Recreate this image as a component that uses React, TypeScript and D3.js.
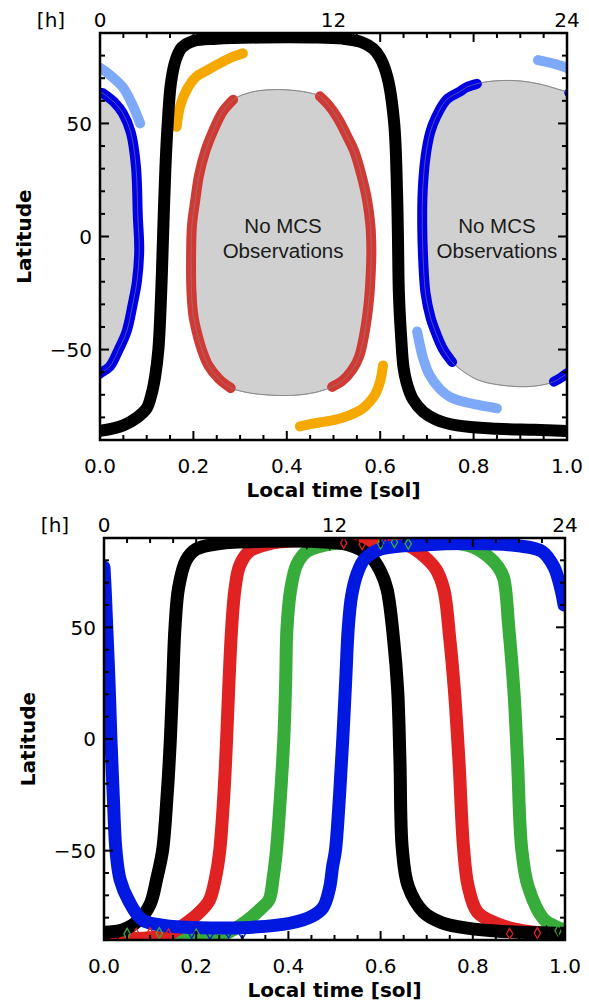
import React, { useRef, useEffect } from "react";
import * as d3 from "d3";

type Pt = [number, number];

const xTicks = [0, 0.2, 0.4, 0.6, 0.8, 1.0];
const xTickLabels = ["0.0", "0.2", "0.4", "0.6", "0.8", "1.0"];
const xMinorTicks = [0.05, 0.1, 0.15, 0.25, 0.3, 0.35, 0.45, 0.5, 0.55, 0.65, 0.7, 0.75, 0.85, 0.9, 0.95];
const hourTicks = [0, 0.5, 1.0];
const hourLabels = ["0", "12", "24"];
const latTicks = [-50, 0, 50];
const latTickLabels = ["\u221250", "0", "50"];
const latMinorTicks = [-80, -70, -60, -40, -30, -20, -10, 10, 20, 30, 40, 60, 70, 80];

// ---- upper panel ----
const upperBlack: Pt[] = [
  [0.0, -86], [0.05, -83.5], [0.08, -80], [0.1, -76], [0.11, -70], [0.118, -62], [0.125, -50],
  [0.131, -25], [0.135, 0], [0.14, 30], [0.145, 50], [0.152, 68], [0.162, 78], [0.175, 83.5],
  [0.2, 86.5], [0.25, 87.5], [0.35, 88], [0.45, 88], [0.52, 87.5], [0.56, 86], [0.585, 83],
  [0.6, 79], [0.616, 70], [0.63, 50], [0.636, 20], [0.638, 0], [0.64, -25], [0.645, -45],
  [0.65, -58], [0.657, -65], [0.67, -72], [0.692, -77.5], [0.72, -81], [0.764, -83.5],
  [0.85, -85], [0.93, -85.5], [1.0, -86],
];

const redLeft: Pt[] = [
  [0.285, 60.5], [0.262, 55], [0.243, 47], [0.226, 38], [0.212, 27], [0.204, 16], [0.197, 5],
  [0.195, -10], [0.196, -25], [0.2, -35], [0.207, -42], [0.218, -50], [0.232, -57], [0.255, -63],
  [0.28, -67],
];
const redRight: Pt[] = [
  [0.471, 62], [0.49, 58], [0.51, 52], [0.53, 44], [0.544, 38], [0.56, 27], [0.572, 16],
  [0.579, 5], [0.581, -5], [0.58, -15], [0.576, -28], [0.567, -42], [0.555, -53], [0.54, -59],
  [0.518, -64], [0.497, -66.5],
];
const dayTop: Pt[] = [[0.45, 63.5], [0.42, 64.5], [0.38, 65], [0.34, 64.5], [0.31, 63]];
const dayBottom: Pt[] = [[0.3, -68.3], [0.33, -69.5], [0.38, -70.3], [0.43, -70], [0.47, -68.5]];

// night-side gap wraps across local midnight (sol > 1 is drawn again at sol - 1)
const blueLeft: Pt[] = [
  [0.807, 67.5], [0.785, 66], [0.77, 64], [0.742, 60.5], [0.72, 53], [0.707, 46], [0.697, 35],
  [0.691, 20], [0.69, 5], [0.692, -10], [0.697, -25], [0.708, -36], [0.72, -43], [0.735, -50],
  [0.754, -55.5],
];
const blueRight: Pt[] = [
  [0.972, -64.2], [0.988, -62.3], [1.0, -60.5], [1.021, -57.5], [1.04, -50], [1.057, -42],
  [1.07, -30], [1.079, -20], [1.084, -6], [1.081, 9], [1.077, 31], [1.066, 46], [1.049, 54.5],
  [1.03, 59.5], [1.015, 62], [1.005, 63.5],
];
const nightBottom: Pt[] = [[0.78, -60], [0.81, -63.5], [0.85, -65.5], [0.895, -66.4], [0.93, -66.2], [0.955, -65.3]];
const nightTop: Pt[] = [[0.98, 65.2], [0.94, 67.5], [0.9, 68.8], [0.863, 69], [0.83, 68.5]];

const lightBlueTop: Pt[] = [[0.938, 78], [0.97, 76.5], [1.0, 74.5], [1.021, 71.5], [1.049, 66], [1.07, 58], [1.086, 50]];
const lightBlueBottom: Pt[] = [
  [0.679, -42], [0.685, -48], [0.692, -54], [0.705, -61], [0.728, -67.5], [0.75, -71],
  [0.777, -73], [0.81, -74.5], [0.85, -76],
];
const orangeTop: Pt[] = [[0.164, 48.5], [0.172, 58], [0.186, 65], [0.205, 70.5], [0.229, 73.5], [0.26, 77], [0.285, 79.5], [0.306, 81]];
const orangeBottom: Pt[] = [
  [0.606, -57], [0.6, -64], [0.59, -69.5], [0.578, -73], [0.56, -76.5], [0.535, -79],
  [0.505, -81], [0.478, -82], [0.45, -83], [0.428, -84],
];

// ---- lower panel ----
const lowerBlack: Pt[] = [
  [0.0, -86.5], [0.04, -85.5], [0.076, -81], [0.1, -74], [0.115, -62], [0.127, -50], [0.137, -25],
  [0.144, 0], [0.149, 25], [0.154, 50], [0.162, 68], [0.178, 80], [0.2, 85], [0.25, 87.5],
  [0.35, 88.5], [0.45, 88.5], [0.53, 87], [0.577, 82], [0.6, 75], [0.614, 67], [0.628, 45],
  [0.637, 22], [0.642, -10], [0.647, -49], [0.66, -66], [0.693, -77.5], [0.73, -82],
  [0.767, -84], [0.85, -86], [1.0, -87],
];
const lowerRed: Pt[] = [
  [0.0, -89.5], [0.1, -89], [0.14, -87.5], [0.178, -82.5], [0.21, -77], [0.229, -72], [0.242, -62],
  [0.251, -50], [0.26, -25], [0.266, 0], [0.271, 25], [0.277, 50], [0.284, 67], [0.294, 77.5],
  [0.315, 84], [0.36, 87.5], [0.45, 89], [0.6, 88.5], [0.66, 86.5], [0.693, 82], [0.72, 76],
  [0.737, 67], [0.75, 45], [0.76, 22], [0.77, -10], [0.78, -49], [0.79, -66], [0.81, -77.5],
  [0.85, -82.5], [0.9, -85.5], [1.0, -88],
];
const lowerGreen: Pt[] = [
  [0.0, -90], [0.1, -90], [0.2, -89.5], [0.26, -87.5], [0.309, -81.5], [0.34, -76], [0.358, -72],
  [0.367, -62], [0.374, -50], [0.383, -25], [0.39, 0], [0.394, 25], [0.397, 50], [0.405, 67],
  [0.418, 78], [0.44, 84], [0.5, 87.5], [0.6, 88.5], [0.75, 88], [0.8, 86], [0.832, 82],
  [0.855, 77], [0.867, 72], [0.878, 50], [0.889, 22], [0.897, -10], [0.906, -49], [0.92, -66],
  [0.954, -80.7], [0.98, -84], [1.0, -85.5],
];
const lowerBlue: Pt[] = [
  [0.0, 77], [0.003, 65], [0.006, 50], [0.011, 25], [0.015, 0], [0.02, -25], [0.026, -50],
  [0.035, -63], [0.054, -72.6], [0.083, -81], [0.13, -83.5], [0.207, -84.5], [0.3, -84.5],
  [0.403, -82.5], [0.45, -79.5], [0.475, -75.5], [0.489, -67], [0.496, -57], [0.502, -50],
  [0.511, -25], [0.518, 0], [0.524, 25], [0.53, 50], [0.537, 64], [0.549, 74], [0.565, 80.5],
  [0.6, 85], [0.7, 87], [0.8, 87.5], [0.9, 86.5], [0.95, 84], [0.976, 77], [0.99, 68], [0.998, 60],
];
const lowerBlackMarks: Pt[] = [[0.44, 87.6], [0.47, 88.3], [0.49, 87.4], [0.92, -86.8], [0.96, -86.3], [0.99, -86.9], [0.01, -87.5], [0.03, -86.8]];
const lowerRedMarks: Pt[] = [[0.52, 87.8], [0.56, 87.2], [0.07, -87.3], [0.1, -86.9], [0.14, -87.4], [0.88, -87.2], [0.94, -86.9]];
const lowerGreenMarks: Pt[] = [[0.6, 87.5], [0.63, 88.1], [0.66, 87.4], [0.05, -87.2], [0.12, -86.9], [0.2, -87.5], [0.985, -85.8]];
const lowerBlueMarks: Pt[] = [[0.61, 87.9], [0.7, 87.3], [0.72, 88.2], [0.74, 87.6], [0.19, -86.8], [0.23, -87.3], [0.27, -86.7], [0.3, -87.2]];

const FONT = "'DejaVu Sans', sans-serif";

type Box = { left: number; right: number; top: number; bottom: number };

const drawAxes = (svg: any, x: any, y: any, b: Box) => {
  const g = svg.append("g").attr("stroke", "#000").attr("stroke-width", 2);
  const vTick = (vals: number[], len: number) => {
    vals.forEach((v) => {
      g.append("line").attr("x1", x(v)).attr("x2", x(v)).attr("y1", b.bottom).attr("y2", b.bottom - len);
      g.append("line").attr("x1", x(v)).attr("x2", x(v)).attr("y1", b.top).attr("y2", b.top + len);
    });
  };
  const hTick = (vals: number[], len: number) => {
    vals.forEach((v) => {
      g.append("line").attr("x1", b.left).attr("x2", b.left + len).attr("y1", y(v)).attr("y2", y(v));
      g.append("line").attr("x1", b.right).attr("x2", b.right - len).attr("y1", y(v)).attr("y2", y(v));
    });
  };
  vTick(xTicks, 9);
  vTick(xMinorTicks, 5);
  hTick(latTicks, 9);
  hTick(latMinorTicks, 5);
  g.append("rect")
    .attr("x", b.left).attr("y", b.top)
    .attr("width", b.right - b.left).attr("height", b.bottom - b.top)
    .attr("fill", "none").attr("stroke-width", 2.5);

  const t = svg.append("g").attr("font-family", FONT).attr("fill", "#000");
  xTicks.forEach((v, i) => {
    t.append("text").attr("x", x(v)).attr("y", b.bottom + 33)
      .attr("text-anchor", "middle").attr("font-size", 20).text(xTickLabels[i]);
  });
  hourTicks.forEach((v, i) => {
    t.append("text").attr("x", x(v)).attr("y", b.top - 6)
      .attr("text-anchor", "middle").attr("font-size", 20).text(hourLabels[i]);
  });
  t.append("text").attr("x", b.left - 49).attr("y", b.top - 6)
    .attr("text-anchor", "middle").attr("font-size", 20).text("[h]");
  latTicks.forEach((v, i) => {
    t.append("text").attr("x", b.left - 8).attr("y", y(v)).attr("dy", "0.36em")
      .attr("text-anchor", "end").attr("font-size", 20).text(latTickLabels[i]);
  });
  t.append("text").attr("x", (b.left + b.right) / 2).attr("y", b.bottom + 57)
    .attr("text-anchor", "middle").attr("font-size", 20).attr("font-weight", "bold")
    .text("Local time [sol]");
  t.append("text")
    .attr("transform", `translate(${b.left - 69},${(b.top + b.bottom) / 2}) rotate(-90)`)
    .attr("text-anchor", "middle").attr("font-size", 20).attr("font-weight", "bold")
    .text("Latitude");
};

const App = () => {
  const ref = useRef<SVGSVGElement>(null);

  useEffect(() => {
    const svg = d3.select(ref.current);
    svg.selectAll("*").remove();

    const upper: Box = { left: 100, right: 567, top: 33, bottom: 440 };
    const lower: Box = { left: 104, right: 565, top: 538, bottom: 940 };

    const defs = svg.append("defs");
    [["clipUpper", upper], ["clipLower", lower]].forEach(([id, b]: any) => {
      defs.append("clipPath").attr("id", id).append("rect")
        .attr("x", b.left).attr("y", b.top)
        .attr("width", b.right - b.left).attr("height", b.bottom - b.top);
    });

    // upper panel
    const x1 = d3.scaleLinear().domain([0, 1]).range([upper.left, upper.right]);
    const y1 = d3.scaleLinear().domain([-90, 90]).range([upper.bottom, upper.top]);
    const line1 = (shift: number) =>
      d3.line<Pt>().x((d) => x1(d[0] + shift)).y((d) => y1(d[1])).curve(d3.curveCatmullRom.alpha(0.5));
    const blob1 = (shift: number) =>
      d3.line<Pt>().x((d) => x1(d[0] + shift)).y((d) => y1(d[1])).curve(d3.curveCatmullRomClosed.alpha(0.5));

    const dayBlob: Pt[] = [...redLeft, ...dayBottom, ...redRight.slice().reverse(), ...dayTop];
    const nightBlob: Pt[] = [...blueLeft, ...nightBottom, ...blueRight, ...nightTop];

    const gu = svg.append("g").attr("clip-path", "url(#clipUpper)");
    gu.append("path").attr("d", blob1(0)(dayBlob)).attr("fill", "#d0d0d0")
      .attr("stroke", "#8a8a8a").attr("stroke-width", 1);
    [0, -1].forEach((s) =>
      gu.append("path").attr("d", blob1(s)(nightBlob)).attr("fill", "#d0d0d0")
        .attr("stroke", "#8a8a8a").attr("stroke-width", 1)
    );

    const bands: [Pt[], string][] = [
      [redLeft, "#d03a35"], [redRight, "#d03a35"],
      [blueLeft, "#0000e2"], [blueRight, "#0000e2"],
      [lightBlueTop, "#7ea8f8"], [lightBlueBottom, "#7ea8f8"],
      [orangeTop, "#f5a800"], [orangeBottom, "#f5a800"],
    ];
    bands.forEach(([data, color]) => {
      [0, -1].forEach((s) => {
        gu.append("path").attr("d", line1(s)(data)).attr("fill", "none")
          .attr("stroke", color).attr("stroke-width", 10).attr("stroke-linecap", "round");
      });
    });
    // faint gap outline showing through the bands
    gu.append("path").attr("d", blob1(0)(dayBlob)).attr("fill", "none")
      .attr("stroke", "#8a8a8a").attr("stroke-width", 1).attr("opacity", 0.55);
    [0, -1].forEach((s) =>
      gu.append("path").attr("d", blob1(s)(nightBlob)).attr("fill", "none")
        .attr("stroke", "#8a8a8a").attr("stroke-width", 1).attr("opacity", 0.55)
    );
    gu.append("path").attr("d", line1(0)(upperBlack)).attr("fill", "none")
      .attr("stroke", "#000").attr("stroke-width", 12).attr("stroke-linecap", "round").attr("stroke-linejoin", "round");

    const noObs = [[0.392, "No MCS", 1.5], [0.392, "Observations", -9.5], [0.85, "No MCS", 1.5], [0.85, "Observations", -9.5]];
    noObs.forEach(([sx, label, lat]: any) => {
      gu.append("text").attr("x", x1(sx)).attr("y", y1(lat)).attr("text-anchor", "middle")
        .attr("font-family", "'Liberation Sans', Arial, sans-serif").attr("font-size", 20.5)
        .attr("fill", "#1a1a1a").text(label);
    });

    drawAxes(svg, x1, y1, upper);

    // lower panel
    const x2 = d3.scaleLinear().domain([0, 1]).range([lower.left, lower.right]);
    const y2 = d3.scaleLinear().domain([-90, 90]).range([lower.bottom, lower.top]);
    const line2 = d3.line<Pt>().x((d) => x2(d[0])).y((d) => y2(d[1])).curve(d3.curveCatmullRom.alpha(0.5));
    const gl = svg.append("g").attr("clip-path", "url(#clipLower)");
    const series: [Pt[], Pt[], string][] = [
      [lowerGreen, lowerGreenMarks, "#38ac3a"],
      [lowerRed, lowerRedMarks, "#e02222"],
      [lowerBlack, lowerBlackMarks, "#000000"],
      [lowerBlue, lowerBlueMarks, "#0018e0"],
    ];
    const diamond = d3.symbol().type(d3.symbolDiamond).size(34);
    series.forEach(([data, , color]) => {
      gl.append("path").attr("d", line2(data)).attr("fill", "none")
        .attr("stroke", color).attr("stroke-width", 13)
        .attr("stroke-linecap", "round").attr("stroke-linejoin", "round");
    });
    series.forEach(([, marks, color]) => {
      gl.selectAll(null).data(marks).enter().append("path")
        .attr("d", diamond as any)
        .attr("transform", (d: Pt) => `translate(${x2(d[0])},${y2(d[1])})`)
        .attr("fill", "none").attr("stroke", color).attr("stroke-width", 1.3);
    });

    drawAxes(svg, x2, y2, lower);
  }, []);

  return (
    <svg
      ref={ref}
      width={589}
      height={1003}
      style={{ position: "absolute", left: 0, top: 0, background: "#fff" }}
    />
  );
};

export default App;
